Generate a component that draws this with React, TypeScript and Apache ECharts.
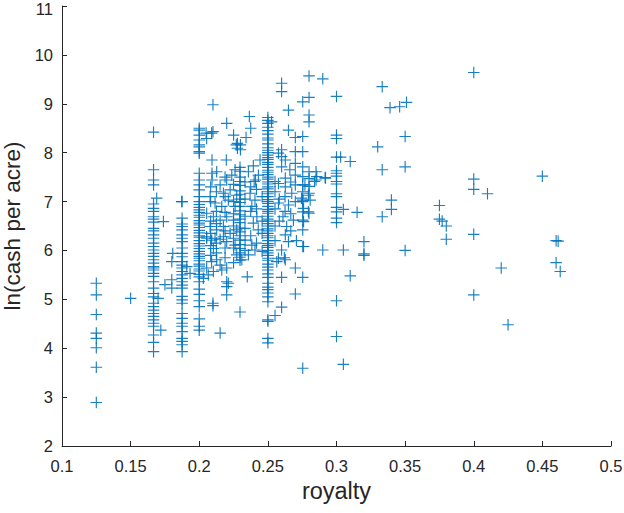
import React, { useEffect, useRef } from "react";
import * as echarts from "echarts";

// ---- data (royalty, ln(cash per acre)) ----
const x0125 = 0.125;
const y0125 = [5.33, 5.09, 4.69, 4.31, 4.2, 4.01, 3.61, 2.89];

const x0167 = 0.1667;
const y0167 = [8.42, 7.65, 7.44, 7.34, 6.95, 6.86, 6.8, 6.69, 6.64, 6.58, 6.45, 6.4, 6.32, 6.25, 6.15, 6.08, 6.01, 5.94, 5.88, 5.81, 5.74, 5.67, 5.64, 5.6, 5.53, 5.47, 5.36, 5.23, 5.12, 5.05, 4.92, 4.85, 4.78, 4.71, 4.65, 4.58, 4.51, 4.45, 4.27, 4.12, 3.93];

const x0188 = 0.1875;
const y0188 = [7.0, 6.66, 6.54, 6.49, 6.42, 6.32, 6.25, 6.18, 6.05, 5.94, 5.87, 5.77, 5.7, 5.64, 5.57, 5.5, 5.43, 5.36, 5.29, 5.23, 5.06, 4.99, 4.92, 4.71, 4.61, 4.51, 4.45, 4.34, 4.2, 4.14, 4.07, 3.93];

const x0200 = 0.2;
const y0200 = [8.5, 8.46, 8.36, 8.26, 8.16, 8.12, 8.02, 7.99, 7.58, 7.44, 7.34, 7.24, 7.1, 7.0, 6.94, 6.88, 6.83, 6.78, 6.72, 6.68, 6.61, 6.56, 6.52, 6.47, 6.41, 6.36, 6.3, 6.27, 6.2, 6.14, 6.09, 6.04, 5.98, 5.93, 5.88, 5.84, 5.79, 5.72, 5.68, 5.62, 5.58, 5.51, 5.46, 5.36, 5.21, 5.1, 4.97, 4.85, 4.6, 4.45, 4.37];

const x0230 = 0.2297;
const y0230 = [7.7, 7.62, 7.5, 7.41, 7.33, 7.22, 7.15, 7.05, 6.98, 6.9, 6.81, 6.73, 6.64, 6.57, 6.46, 6.38, 6.3, 6.21, 6.12, 6.04, 5.95, 5.86, 5.8, 4.74];

const x0250 = 0.25;
const y0250 = [8.72, 8.66, 8.6, 8.52, 8.45, 8.38, 8.3, 8.26, 8.18, 8.1, 8.05, 8.0, 7.95, 7.9, 7.86, 7.8, 7.76, 7.7, 7.64, 7.6, 7.55, 7.5, 7.46, 7.4, 7.36, 7.3, 7.26, 7.2, 7.16, 7.1, 7.04, 7.0, 6.96, 6.9, 6.84, 6.8, 6.76, 6.7, 6.64, 6.6, 6.55, 6.5, 6.44, 6.4, 6.35, 6.3, 6.26, 6.2, 6.14, 6.1, 6.06, 6.0, 5.95, 5.9, 5.84, 5.8, 5.72, 5.66, 5.6, 5.52, 5.45, 5.33, 5.25, 5.2, 5.13, 5.05, 4.95, 4.58, 4.55, 4.2, 4.11];

const x0275 = 0.2754;
const y0275 = [9.04, 8.33, 8.02, 7.71, 7.51, 7.34, 7.2, 7.03, 7.0, 6.79, 6.62, 6.42, 6.08, 5.45, 3.59];

const x0280 = 0.28;
const y0280 = [9.57, 9.13, 8.77, 8.63, 7.61, 7.47, 7.31, 7.17, 6.76];

const x0300 = 0.3;
const y0300 = [9.15, 8.36, 8.29, 7.91, 7.63, 7.58, 7.52, 7.41, 7.36, 7.16, 7.1, 6.88, 6.79, 6.66, 6.57, 4.97, 4.24];

const x0150 = 0.15;
const y0150 = [5.02];

// scattered points next to the low-royalty columns
const lowScatter: [number, number][] = [
  [0.169, 7.07], [0.1739, 6.59], [0.17, 5.02], [0.172, 4.37], [0.175, 5.3],
  [0.1807, 5.94], [0.18, 5.77], [0.18, 5.4], [0.18, 5.23], [0.1909, 5.67],
  [0.1933, 5.53], [0.1872, 7.0],
];

// cloud between royalty 0.2 and 0.25
const midScatter: [number, number][] = [
  [0.2054, 8.29], [0.209, 8.4], [0.205, 8.4], [0.21, 8.43], [0.21, 8.98], [0.22, 8.6],
  [0.225, 8.36], [0.227, 8.16], [0.2278, 8.19], [0.2278, 8.09], [0.2365, 8.74], [0.2375, 8.5],
  [0.2341, 8.31], [0.23, 8.16], [0.23, 8.06], [0.2093, 7.85], [0.2197, 7.85], [0.2093, 7.58],
  [0.2093, 7.44], [0.2127, 7.61], [0.2152, 7.34], [0.22, 7.44], [0.2237, 7.54], [0.2261, 7.65],
  [0.2394, 7.73], [0.2443, 7.85], [0.241, 7.44], [0.24, 7.41], [0.2358, 7.61], [0.2431, 7.54],
  [0.2176, 7.17], [0.2225, 7.24], [0.2273, 7.13], [0.2079, 7.1], [0.2115, 6.97], [0.2164, 6.9],
  [0.2212, 7.03], [0.2261, 6.9], [0.2054, 6.76], [0.2103, 6.69], [0.2152, 6.62], [0.22, 6.69],
  [0.2249, 6.62], [0.2079, 6.49], [0.2127, 6.42], [0.2176, 6.49], [0.2225, 6.35], [0.2273, 6.42],
  [0.2054, 6.28], [0.2115, 6.25], [0.2176, 6.28], [0.2249, 6.25], [0.237, 7.17], [0.2406, 7.03],
  [0.2383, 6.9], [0.242, 6.69], [0.2394, 6.56], [0.243, 6.42], [0.2383, 6.11], [0.2334, 6.21],
  [0.2406, 6.01], [0.2358, 5.91], [0.231, 5.81], [0.2054, 6.25], [0.209, 6.21], [0.2152, 6.23],
  [0.22, 6.18], [0.2261, 6.11], [0.2273, 5.91], [0.2103, 6.04], [0.2127, 5.81], [0.209, 5.77],
  [0.2152, 5.7], [0.2054, 5.64], [0.22, 5.64], [0.2066, 5.5], [0.203, 5.43], [0.2103, 5.57],
  [0.2164, 5.6], [0.22, 5.36], [0.22, 5.26], [0.22, 5.09], [0.21, 4.92], [0.21, 4.87],
  [0.2152, 4.31], [0.235, 5.46], [0.2212, 5.33],
  [0.2083, 7.3], [0.2083, 7.0], [0.2083, 6.6], [0.2083, 6.35], [0.2083, 6.1], [0.2083, 5.9],
  [0.2125, 7.2], [0.2125, 6.8], [0.2125, 6.55], [0.2125, 6.15], [0.2125, 5.95],
  [0.2188, 7.5], [0.2188, 7.1], [0.2188, 6.78], [0.2188, 6.4], [0.2188, 6.05], [0.2188, 5.85],
  [0.225, 7.35], [0.225, 7.0], [0.225, 6.75], [0.225, 6.5], [0.225, 6.05], [0.225, 5.75],
  [0.2333, 7.4], [0.2333, 7.05], [0.2333, 6.7], [0.2333, 6.45], [0.2333, 6.0],
  [0.2375, 7.3], [0.2375, 6.8], [0.2375, 6.3], [0.2417, 7.25], [0.2417, 6.85], [0.2417, 6.15],
  [0.2458, 7.1], [0.2458, 6.6], [0.2458, 6.35], [0.2458, 5.98],
];

// points between royalty 0.25 and 0.3
const upperScatter: [number, number][] = [
  [0.26, 9.42], [0.26, 9.25], [0.29, 9.51], [0.265, 8.87], [0.2527, 8.63], [0.265, 8.46],
  [0.27, 8.31], [0.26, 8.06], [0.26, 7.92], [0.27, 8.02], [0.2577, 7.99], [0.2627, 7.85],
  [0.26, 7.71], [0.27, 7.78], [0.266, 7.65], [0.27, 7.54], [0.2856, 7.51], [0.2917, 7.49],
  [0.2627, 7.48], [0.2552, 7.41], [0.2851, 7.61], [0.2851, 7.44], [0.277, 7.34], [0.292, 7.48],
  [0.2577, 7.37], [0.2627, 7.3], [0.27, 7.34], [0.284, 7.41], [0.2674, 7.17], [0.2745, 7.07],
  [0.2795, 7.13], [0.2577, 6.97], [0.265, 6.93], [0.276, 6.86], [0.261, 6.69], [0.2686, 6.62],
  [0.276, 6.59], [0.2637, 6.49], [0.2627, 6.32], [0.265, 6.18], [0.26, 6.01], [0.2577, 5.84],
  [0.2627, 5.81], [0.2808, 7.03], [0.2795, 6.79], [0.29, 6.01], [0.276, 6.08], [0.27, 5.64],
  [0.26, 5.45], [0.27, 5.11], [0.2552, 4.67], [0.26, 4.84], [0.2565, 5.77], [0.262, 5.85],
  [0.2552, 7.2], [0.2552, 6.85], [0.2552, 6.5], [0.2552, 6.2], [0.2583, 7.05], [0.2583, 6.6],
  [0.2625, 7.1], [0.2625, 6.8], [0.2667, 7.4], [0.2667, 6.75], [0.2667, 6.4], [0.27, 7.0],
  [0.2708, 6.2],
];

// sparse points at high royalty
const highScatter: [number, number][] = [
  [0.3333, 9.35], [0.339, 8.92], [0.346, 8.94], [0.351, 9.03], [0.35, 8.33], [0.33, 8.12],
  [0.303, 7.91], [0.31, 7.82], [0.3333, 7.65], [0.35, 7.71], [0.305, 6.84], [0.315, 6.78],
  [0.3333, 6.69], [0.34, 7.03], [0.34, 6.84], [0.375, 6.92], [0.375, 6.64], [0.377, 6.6],
  [0.38, 6.5], [0.38, 6.23], [0.305, 6.01], [0.35, 6.0], [0.32, 6.18], [0.32, 5.93],
  [0.32, 5.9], [0.31, 5.48], [0.305, 3.67], [0.4, 9.64], [0.4, 7.46], [0.4, 7.25],
  [0.41, 7.16], [0.45, 7.52], [0.4, 6.33], [0.46, 6.2], [0.4615, 6.19], [0.46, 5.75],
  [0.463, 5.57], [0.42, 5.64], [0.4, 5.09], [0.425, 4.48],
];

const columns: [number, number[]][] = [
  [x0125, y0125], [x0150, y0150], [x0167, y0167], [x0188, y0188], [x0200, y0200],
  [x0230, y0230], [x0250, y0250], [x0275, y0275], [x0280, y0280], [x0300, y0300],
];

const points: [number, number][] = [
  ...columns.flatMap(([x, ys]) => ys.map((y) => [x, y] as [number, number])),
  ...lowScatter,
  ...midScatter,
  ...upperScatter,
  ...highScatter,
];

const PLUS = "path://M5.4,0H6.6V5.4H12V6.6H6.6V12H5.4V6.6H0V5.4H5.4Z";
const AXIS = "#262626";
const FONT = "'Liberation Sans', Arial, Helvetica, sans-serif";

export default function App() {
  const ref = useRef<HTMLDivElement>(null);
  useEffect(() => {
    if (!ref.current) return;
    const chart = echarts.init(ref.current, undefined, { renderer: "svg" });
    const fmt = (v: number) => String(parseFloat(v.toFixed(2)));
    chart.setOption({
      animation: false,
      backgroundColor: "#ffffff",
      grid: { left: 62, right: 13, top: 6, bottom: 67, containLabel: false, outerBoundsMode: "none" },
      xAxis: {
        type: "value",
        min: 0.1,
        max: 0.5,
        interval: 0.05,
        name: "royalty",
        nameLocation: "middle",
        nameGap: 33,
        nameTextStyle: { color: AXIS, fontSize: 23.5, fontFamily: FONT },
        axisLine: { show: true, onZero: false, lineStyle: { color: AXIS, width: 1 } },
        axisTick: { show: true, inside: true, length: 5, lineStyle: { color: AXIS } },
        axisLabel: { color: AXIS, fontSize: 16.5, fontFamily: FONT, margin: 11, formatter: fmt },
        splitLine: { show: false },
      },
      yAxis: {
        type: "value",
        min: 2,
        max: 11,
        interval: 1,
        name: "ln(cash per acre)",
        nameLocation: "middle",
        nameGap: 34,
        nameTextStyle: { color: AXIS, fontSize: 22.5, fontFamily: FONT },
        axisLine: { show: true, onZero: false, lineStyle: { color: AXIS, width: 1 } },
        axisTick: { show: true, inside: true, length: 5, lineStyle: { color: AXIS } },
        axisLabel: {
          color: AXIS,
          fontSize: 16.5,
          fontFamily: FONT,
          margin: 9,
          formatter: (v: number) => (v === 11 ? "{top|11}" : String(v)),
          rich: { top: { color: AXIS, fontSize: 16.5, fontFamily: FONT, padding: [5, 0, 0, 0] } },
        },
        splitLine: { show: false },
      },
      series: [
        {
          type: "scatter",
          data: points,
          symbol: PLUS,
          symbolSize: 11.5,
          itemStyle: { color: "#0072BD", opacity: 0.9 },
        },
      ],
    });
    return () => chart.dispose();
  }, []);
  return (
    <div
      ref={ref}
      style={{ position: "fixed", left: 0, top: 0, width: 624, height: 513, background: "#fff" }}
    />
  );
}
